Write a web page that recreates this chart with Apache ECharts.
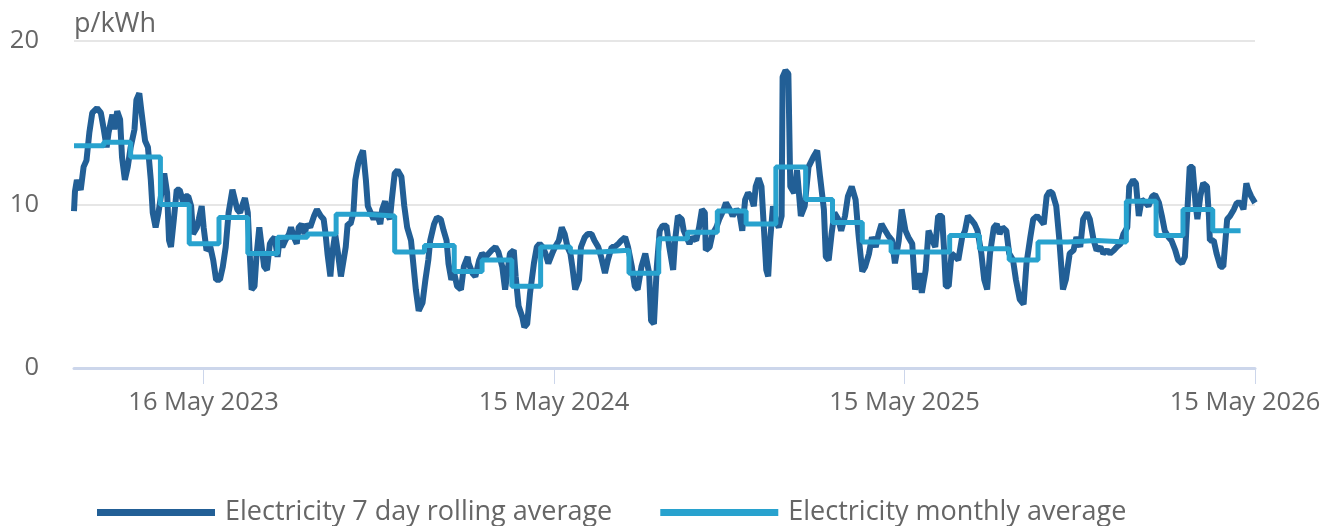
<!DOCTYPE html>
<html>
<head>
<meta charset="utf-8">
<title>Electricity prices</title>
<script src="https://cdn.jsdelivr.net/npm/echarts@6/dist/echarts.min.js"></script>
<style>
html, body { margin: 0; padding: 0; background: #fff; }
#main { width: 1325px; height: 526px; }
</style>
</head>
<body>
<div id="main"></div>
<script>
var DAY = 24 * 3600 * 1000
var startDate = Date.UTC(2023, 0, 1)
var endDate = Date.UTC(2026, 4, 15)

// 7 day rolling average (p/kWh), x = days since 1 Jan 2023
var rollingDays = [
  0, 1, 3, 7, 10, 13, 16, 19, 24, 28,
  31, 34, 36, 40, 42, 45, 48, 50, 53, 56,
  59, 63, 65, 68, 70, 74, 77, 80, 82, 85,
  88, 90, 94, 97, 99, 101, 104, 107, 110, 114,
  116, 119, 122, 124, 128, 130, 133, 135, 138, 142,
  145, 148, 152, 155, 158, 161, 165, 167, 170, 173,
  175, 178, 181, 183, 185, 188, 190, 193, 195, 198,
  201, 204, 206, 209, 212, 214, 217, 220, 224, 226,
  229, 232, 234, 237, 240, 243, 246, 250, 253, 257,
  260, 262, 264, 267, 269, 272, 275, 278, 280, 283,
  285, 288, 291, 293, 296, 298, 301, 304, 306, 309,
  312, 315, 319, 321, 324, 326, 329, 331, 334, 337,
  341, 344, 347, 351, 353, 356, 359, 363, 366, 369,
  371, 375, 378, 382, 385, 388, 390, 393, 396, 399,
  403, 406, 410,
  411, 415, 418, 422, 425, 429, 432, 435, 439, 442,
  446, 449, 451, 454, 458, 460, 463, 467, 469, 472,
  475, 479, 482, 485, 488, 491, 494, 498, 501, 505,
  508, 511, 514, 517, 519, 522, 526, 528, 532, 535,
  539, 542, 546, 549, 553, 556, 560, 563, 567, 570,
  574, 577, 581, 584, 587, 591, 595, 599, 601, 604,
  607, 610, 613, 617, 620, 624, 626, 629, 633, 635,
  638, 641, 644, 648, 651, 654, 657, 658, 662, 665,
  669, 672, 676, 679, 683, 686, 690, 693, 696, 699,
  702, 705, 708, 710, 713, 716, 718, 721, 723, 725,
  728, 730, 734, 737, 738, 741, 744, 746, 750, 753,
  755, 757, 761, 765, 770, 774, 777, 781, 783, 786,
  789, 792, 796, 799, 803, 806, 810, 814, 817, 819,
  821,
  824, 828, 831, 835, 838, 841, 845, 848, 852, 855,
  859, 862, 866, 869, 873, 876, 880, 883, 887, 890,
  894, 897, 900, 904, 906, 908, 911, 914, 918, 921,
  925, 928, 931, 934, 938, 941, 945, 948, 951, 954,
  958, 961, 964, 967, 971, 974, 978, 981, 985, 989,
  992, 996, 999, 1003, 1006, 1010, 1013, 1016, 1019, 1023,
  1026, 1030, 1033, 1037, 1041, 1044, 1048, 1051, 1055, 1058,
  1062, 1065, 1069, 1072, 1076, 1079, 1083, 1086, 1090, 1093,
  1097, 1099, 1103, 1106, 1109, 1112, 1116, 1119, 1123, 1126,
  1130, 1133, 1136, 1140, 1143, 1147, 1150, 1154, 1157, 1160,
  1162, 1165, 1168, 1170, 1173, 1176, 1180, 1182, 1183, 1187,
  1190, 1194, 1197, 1201, 1204, 1208, 1211, 1215, 1218, 1221,
  1223, 1226, 1228, 1230
]
var rollingValues = [
  9.6, 10.8, 11.5, 10.9, 12.3, 12.7, 14.4, 15.6, 15.9, 15.6,
  14.6, 13.5, 14.4, 15.5, 14.6, 15.7, 15.2, 12.9, 11.5, 12.3,
  13.5, 14.6, 16.4, 16.8, 15.8, 13.9, 13.5, 11.5, 9.5, 8.6,
  9.5, 10.3, 11.9, 10.7, 7.8, 7.4, 9.1, 10.9, 10.9, 10.1,
  10.5, 10.5, 9.9, 8.2, 8.6, 9.1, 9.9, 8.6, 7.2, 7.4,
  6.6, 5.4, 5.4, 6.2, 7.4, 9.5, 10.9, 11.0, 9.7, 9.5,
  9.9, 10.4, 9.5, 7.0, 4.8, 5.0, 6.8, 8.6, 8.6, 6.2,
  6.0, 7.6, 7.8, 8.0, 6.8, 7.8, 7.4, 7.8, 8.2, 8.6,
  8.0, 7.6, 8.6, 8.8, 8.2, 8.8, 8.6, 9.3, 9.7, 9.3,
  9.1, 8.2, 7.0, 5.6, 7.0, 8.2, 7.0, 5.6, 5.6, 7.4,
  8.8, 8.8, 9.5, 11.5, 12.5, 12.9, 13.3, 11.5, 9.9, 9.5,
  9.1, 9.5, 8.8, 9.7, 10.2, 9.5, 9.1, 10.3, 11.9, 12.1,
  11.7, 9.9, 8.6, 7.8, 6.6, 4.8, 3.5, 4.0, 5.4, 6.6,
  7.8, 8.8, 9.2, 9.1, 8.4, 7.8, 6.4, 5.4, 5.8, 5.0,
  4.8, 6.2, 6.8,
  6.4, 5.8, 5.6, 6.6, 7.0, 6.8, 7.0, 7.2, 7.4, 7.1,
  6.2, 4.8, 4.8, 7.0, 7.2, 5.6, 3.8, 3.1, 2.5, 2.7,
  4.6, 6.4, 7.4, 7.6, 7.4, 7.0, 6.4, 7.0, 7.4, 7.8,
  8.6, 8.2, 7.4, 7.0, 6.2, 4.8, 5.4, 7.4, 8.0, 8.2,
  8.2, 7.8, 7.4, 6.8, 5.8, 6.6, 7.4, 7.4, 7.6, 7.8,
  8.0, 7.4, 6.2, 5.0, 4.8, 6.2, 7.0, 5.8, 2.9, 2.7,
  6.2, 8.4, 8.7, 8.7, 7.4, 6.0, 7.8, 9.3, 9.1, 8.4,
  8.0, 7.6, 8.0, 7.8, 8.6, 9.7, 9.5, 7.2, 7.4, 8.2,
  8.6, 9.1, 9.6, 10.1, 9.7, 9.3, 9.7, 9.5, 8.4, 10.3,
  10.7, 10.5, 9.9, 11.1, 11.6, 11.1, 9.1, 6.0, 5.6, 7.8,
  9.9, 9.1, 8.6, 9.3, 17.8, 18.2, 18.0, 11.1, 10.7, 12.1,
  10.7, 9.3, 9.9, 12.3, 12.9, 13.3, 11.7, 9.7, 6.8, 6.6,
  8.2, 9.5, 9.1, 8.4, 9.3, 10.5, 11.1, 10.3, 8.2, 7.0,
  5.9,
  6.2, 7.0, 8.0, 7.4, 8.2, 8.8, 8.4, 8.1, 7.8, 6.4,
  7.8, 9.7, 8.4, 8.0, 7.6, 4.8, 5.8, 4.6, 6.0, 8.4,
  7.8, 7.4, 9.3, 9.3, 7.4, 5.0, 5.0, 7.0, 6.8, 6.6,
  8.0, 8.4, 9.3, 9.1, 8.8, 8.4, 7.0, 5.4, 4.8, 7.0,
  8.6, 8.8, 8.2, 8.6, 8.4, 7.0, 6.6, 5.4, 4.2, 3.9,
  6.4, 8.0, 9.1, 9.3, 9.1, 8.8, 10.5, 10.8, 10.7, 9.9,
  8.0, 4.8, 5.4, 7.0, 7.2, 8.0, 7.4, 9.1, 9.5, 9.1,
  7.8, 7.2, 7.4, 7.0, 7.2, 7.0, 7.2, 7.4, 7.6, 8.2,
  8.6, 11.1, 11.5, 11.3, 9.3, 10.3, 10.1, 9.9, 10.5, 10.6,
  10.1, 9.3, 8.4, 8.0, 7.8, 7.2, 6.6, 6.4, 6.8, 10.1,
  12.3, 12.3, 10.1, 9.1, 10.5, 11.3, 11.1, 9.3, 7.8, 7.8,
  7.0, 6.2, 6.2, 9.1, 9.3, 9.7, 10.1, 10.1, 9.7, 11.3,
  10.9, 10.5, 10.3, 10.1
]

// monthly average (p/kWh), one value per month from Jan 2023 to Apr 2026
var monthlyValues = [
  13.6, 13.8, 12.9, 10.0, 7.6, 9.2, 7.0, 8.0, 8.2, 9.4, 9.3, 7.1,
  7.5, 5.9, 6.6, 5.0, 7.4, 7.1, 7.2, 5.8, 7.9, 8.3, 9.6, 8.8,
  12.3, 10.3, 8.9, 7.7, 7.1, 7.1, 8.1, 7.3, 6.6, 7.7, 7.8, 7.7,
  10.2, 8.1, 9.7, 8.4
]
var monthlyEnd = Date.UTC(2026, 3, 30)

// x axis tick dates
var tickDates = [Date.UTC(2023, 4, 16), Date.UTC(2024, 4, 15), Date.UTC(2025, 4, 15), Date.UTC(2026, 4, 15)]
var monthNames = ['Jan', 'Feb', 'Mar', 'Apr', 'May', 'Jun', 'Jul', 'Aug', 'Sep', 'Oct', 'Nov', 'Dec']

var rollingData = rollingDays.map(function (d, i) {
  return [startDate + d * DAY, rollingValues[i]]
})
var monthlyData = monthlyValues.map(function (v, i) {
  return [Date.UTC(2023, i, 1), v]
})
monthlyData.push([monthlyEnd, monthlyValues[monthlyValues.length - 1]])

var font = 'Open Sans'
var textGrey = '#666666'

var myChart = echarts.init(document.getElementById('main'))
var option = {
  animation: false,
  grid: { left: 74, right: 70, top: 41, bottom: 158 },
  legend: {
    left: 92,
    top: 494,
    icon: 'rect',
    itemWidth: 118,
    itemHeight: 7,
    itemGap: 48,
    textStyle: { fontFamily: font, fontSize: 27, color: textGrey, padding: [0, 0, 0, 5] },
    data: ['Electricity 7 day rolling average', 'Electricity monthly average']
  },
  // dates are plotted as timestamps on a value axis so the ticks can sit on the exact days
  xAxis: {
    type: 'value',
    min: startDate,
    max: endDate,
    axisLine: { lineStyle: { color: '#ccd6eb', width: 3 } },
    axisTick: {
      show: true,
      customValues: tickDates,
      length: 16,
      lineStyle: { color: '#ccd6eb', width: 1 }
    },
    axisLabel: {
      customValues: tickDates,
      margin: 22,
      fontFamily: font,
      fontSize: 25.5,
      color: textGrey,
      formatter: function (value) {
        var d = new Date(value)
        var txt = d.getUTCDate() + ' ' + monthNames[d.getUTCMonth()] + ' ' + d.getUTCFullYear()
        if (value >= endDate) return '{last|' + txt + '}'
        return txt
      },
      rich: {
        // keep the last label inside the canvas
        last: { fontFamily: font, fontSize: 25.5, color: textGrey, padding: [0, 20, 0, 0] }
      }
    },
    splitLine: { show: false }
  },
  yAxis: {
    type: 'value',
    min: 0,
    max: 20,
    interval: 10,
    name: 'p/kWh',
    nameLocation: 'end',
    nameGap: 3,
    nameTextStyle: { fontFamily: font, fontSize: 27, color: textGrey, align: 'left', verticalAlign: 'bottom' },
    axisLine: { show: false },
    axisTick: { show: false },
    axisLabel: { margin: 35, fontFamily: font, fontSize: 25.5, color: textGrey },
    splitLine: { lineStyle: { color: '#e6e6e6', width: 2 } }
  },
  series: [
    {
      name: 'Electricity 7 day rolling average',
      type: 'line',
      data: rollingData,
      showSymbol: false,
      lineStyle: { color: '#225f96', width: 6 },
      itemStyle: { color: '#225f96' }
    },
    {
      name: 'Electricity monthly average',
      type: 'line',
      step: 'end',
      data: monthlyData,
      showSymbol: false,
      lineStyle: { color: '#28a2ce', width: 5 },
      itemStyle: { color: '#28a2ce' }
    }
  ]
}
myChart.setOption(option)
</script>
</body>
</html>
